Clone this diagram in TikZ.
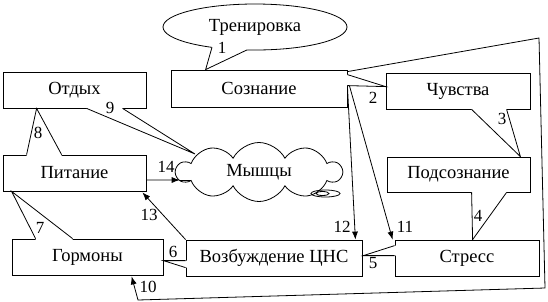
\documentclass[tikz,border=0pt]{standalone}
\usepackage{fontspec}
\setmainfont{Liberation Serif}
\newfontfamily\labfont{Liberation Serif}
\usetikzlibrary{arrows.meta,calc,shapes.geometric,shapes.symbols}

\begin{document}
\begin{tikzpicture}[x=1pt, y=-1pt, line width=0.8pt,
    box/.style={draw, fill=white, inner sep=0pt, font=\labfont\fontsize{18.5}{20}\selectfont},
    beak/.style={fill=white},
    num/.style={inner sep=0pt, font=\labfont\fontsize{17}{18}\selectfont},
    arr/.style={-{Latex[length=8pt,width=6pt]}}]
  \useasboundingbox (0,0) rectangle (548,301);
  % the boxes
  \node[box, ellipse, minimum width=184, minimum height=46] (trening) at (255,27) {Тренировка};
  \node[box, minimum width=176, minimum height=37] (sozn) at (259,88.5) {Сознание};
  \node[box, minimum width=143, minimum height=36] (otdyh) at (74.5,90) {Отдых};
  \node[box, minimum width=144, minimum height=36] (chuv) at (458,91) {Чувства};
  \node[box, minimum width=143, minimum height=35] (podsozn) at (458.5,174.5) {Подсознание};
  \node[box, minimum width=143, minimum height=36] (pitanie) at (74.5,173) {Питание};
  \node[box, cloud, cloud puffs=10, cloud puff arc=125, cloud ignores aspect,
        minimum width=165, minimum height=59] (myshcy) at (259,172) {Мышцы};
  \node[box, minimum width=151, minimum height=36] (gormony) at (87.5,257) {Гормоны};
  \node[box, minimum width=176, minimum height=36] (vozb) at (274,258) {Возбуждение ЦНС};
  \node[box, minimum width=144, minimum height=36] (stress) at (467,258) {Стресс};
  % little bubble of the cloud
  \draw ($(myshcy.center)+(66.5,21.5)$) ellipse [x radius=14.5, y radius=3.5];
  \draw ($(myshcy.center)+(63.5,21.5)$) ellipse [x radius=6.5, y radius=2];
  % callout beaks: base on the box, tip on the other box
  \fill[beak] ($(trening.center)+(-43,17)$) -- ($(trening.center)+(-43,20.3)$)
        -- ($(sozn.north west)+(35,0)$) -- ($(trening.center)+(-8,22.9)$) -- ($(trening.center)+(-8,19)$) -- cycle;
  \draw ($(trening.center)+(-43,20.3)$) -- ($(sozn.north west)+(35,0)$) -- ($(trening.center)+(-8,22.9)$);
  \fill[beak] ($(sozn.north east)+(-2,5)$) -- ($(sozn.north east)+(0,5)$) -- ($(chuv.north west)+(0,14)$)
        -- ($(sozn.north east)+(0,16)$) -- ($(sozn.north east)+(-2,16)$) -- cycle;
  \draw ($(sozn.north east)+(0,5)$) -- ($(chuv.north west)+(0,14)$) -- ($(sozn.north east)+(0,16)$);
  \fill[beak] ($(chuv.south west)+(86,-2)$) -- ($(chuv.south west)+(86,0)$) -- ($(podsozn.north east)+(-10,0)$)
        -- ($(chuv.south west)+(121,0)$) -- ($(chuv.south west)+(121,-2)$) -- cycle;
  \draw ($(chuv.south west)+(86,0)$) -- ($(podsozn.north east)+(-10,0)$) -- ($(chuv.south west)+(121,0)$);
  \fill[beak] ($(podsozn.south west)+(85,-2)$) -- ($(podsozn.south west)+(85,0)$) -- ($(stress.north west)+(78,0)$)
        -- ($(podsozn.south west)+(120,0)$) -- ($(podsozn.south west)+(120,-2)$) -- cycle;
  \draw ($(podsozn.south west)+(85,0)$) -- ($(stress.north west)+(78,0)$) -- ($(podsozn.south west)+(120,0)$);
  \fill[beak] ($(stress.north west)+(2,6)$) -- ($(stress.north west)+(0,6)$) -- ($(vozb.north east)+(1,16)$)
        -- ($(stress.north west)+(0,16)$) -- ($(stress.north west)+(2,16)$) -- cycle;
  \draw ($(stress.north west)+(0,6)$) -- ($(vozb.north east)+(1,16)$) -- ($(stress.north west)+(0,16)$);
  \fill[beak] ($(vozb.north west)+(2,21)$) -- ($(vozb.north west)+(0,21)$) -- ($(gormony.north east)+(0,22)$)
        -- ($(vozb.north west)+(0,28)$) -- ($(vozb.north west)+(2,28)$) -- cycle;
  \draw ($(vozb.north west)+(0,21)$) -- ($(gormony.north east)+(0,22)$) -- ($(vozb.north west)+(0,28)$);
  \fill[beak] ($(gormony.north west)+(24,2)$) -- ($(gormony.north west)+(24,0)$) -- ($(pitanie.south west)+(9,0)$)
        -- ($(gormony.north west)+(61,0)$) -- ($(gormony.north west)+(61,2)$) -- cycle;
  \draw ($(gormony.north west)+(24,0)$) -- ($(pitanie.south west)+(9,0)$) -- ($(gormony.north west)+(61,0)$);
  \fill[beak] ($(pitanie.north west)+(24,2)$) -- ($(pitanie.north west)+(24,0)$) -- ($(otdyh.south west)+(34,0)$)
        -- ($(pitanie.north west)+(59,0)$) -- ($(pitanie.north west)+(59,2)$) -- cycle;
  \draw ($(pitanie.north west)+(24,0)$) -- ($(otdyh.south west)+(34,0)$) -- ($(pitanie.north west)+(59,0)$);
  \fill[beak] ($(otdyh.south west)+(84,-2)$) -- ($(otdyh.south west)+(84,0)$) -- ($(myshcy.center)+(-64,-18)$)
        -- ($(otdyh.south west)+(120,0)$) -- ($(otdyh.south west)+(120,-2)$) -- cycle;
  \draw ($(otdyh.south west)+(84,0)$) -- ($(myshcy.center)+(-64,-18)$) -- ($(otdyh.south west)+(120,0)$);
  % arrows
  \draw[arr] ($(sozn.north east)+(0,2)$) -- (539,38) -- (545,288) -- (138,300) -- ($(gormony.south west)+(120,1)$);
  \draw[arr] ($(sozn.north east)+(2,16)$) -- ($(stress.north west)+(-2,0)$);
  \draw[arr] ($(sozn.north east)+(0,16)$) -- ($(vozb.north east)+(-7,0)$);
  \draw[arr] (vozb.north west) -- ($(pitanie.south east)+(-4,1)$);
  \coordinate (tip14) at ($(myshcy.west)+(5,8)$);
  \draw[arr] ($(pitanie.east)+(0,7)$) -- (tip14);
  \draw (tip14) -- ++(11,0);
  % numbers
  \foreach \n/\x/\y in {1/222/48, 2/373/98, 3/502/119, 4/478/216, 5/373/263, 6/173/252, 7/40/228,
                        8/38/133, 9/110/108, 10/148/287, 11/405/227, 12/342/227, 13/149/215, 14/166/167}
    \node[num] (l\n) at (\x,\y) {\n};
\end{tikzpicture}
\end{document}
